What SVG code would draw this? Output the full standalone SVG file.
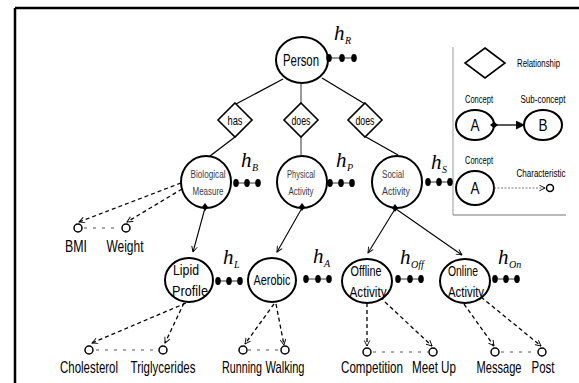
<svg xmlns="http://www.w3.org/2000/svg" width="579" height="383" viewBox="0 0 579 383">
<defs>
<marker id="v" viewBox="0 0 10 10" refX="9" refY="5" markerWidth="7" markerHeight="7" orient="auto" markerUnits="userSpaceOnUse">
<path d="M1,1 L9,5 L1,9" fill="none" stroke="#000" stroke-width="1.3"/>
</marker>
<marker id="tri" viewBox="0 0 10 10" refX="9" refY="5" markerWidth="9" markerHeight="9" orient="auto" markerUnits="userSpaceOnUse">
<path d="M0,0 L10,5 L0,10 Z" fill="#000"/>
</marker>
<marker id="dia" viewBox="0 0 10 10" refX="5" refY="5" markerWidth="8" markerHeight="8" orient="auto" markerUnits="userSpaceOnUse">
<path d="M0,5 L5,1 L10,5 L5,9 Z" fill="#000"/>
</marker>
</defs>
<style>
.c{fill:#fff;stroke:#000;stroke-width:2}
.d{fill:#fff;stroke:#000;stroke-width:1.6}
.l{stroke:#000;stroke-width:1.3;fill:none}
.a{stroke:#000;stroke-width:1.1;fill:none;marker-end:url(#v)}
.dl{stroke:#000;stroke-width:1.3;stroke-dasharray:4,3;fill:none;marker-end:url(#v)}
.dt{stroke:#555;stroke-width:1;stroke-dasharray:3,6;fill:none}
.k{fill:#fff;stroke:#000;stroke-width:1.5}
.dot{fill:#000}
.t{font-family:"Liberation Sans",Arial,sans-serif;fill:#000;text-anchor:middle}
.b{font-family:"Liberation Sans",Arial,sans-serif;fill:#000;text-anchor:middle;font-size:16px}
.s{font-family:"Liberation Sans",Arial,sans-serif;fill:#3a3a4a;text-anchor:middle;font-size:10px}
.h{font-family:"Liberation Serif",serif;font-style:italic;fill:#000;font-size:21px}
.hs{font-family:"Liberation Serif",serif;font-style:italic;fill:#000;font-size:10px}
</style>
<g id="frame">
<line x1="15" y1="8" x2="579" y2="8" stroke="#000" stroke-width="2.5"/>
<line x1="15" y1="8" x2="15" y2="383" stroke="#000" stroke-width="2.5"/>
</g>
<g id="legend">
<line x1="453" y1="47" x2="453" y2="215" stroke="#999" stroke-width="1"/>
<line x1="453" y1="215" x2="566" y2="215" stroke="#777" stroke-width="1"/>
<path d="M485,48 L505,63 L485,78 L465,63 Z" class="d"/>
<text transform="translate(517,67) scale(0.72,1)" class="t" style="font-size:10px;text-anchor:start" textLength="59.7" lengthAdjust="spacingAndGlyphs">Relationship</text>
<text transform="translate(479,103) scale(0.72,1)" class="t" style="font-size:11px" textLength="38.9" lengthAdjust="spacingAndGlyphs">Concept</text>
<text transform="translate(543,103) scale(0.72,1)" class="t" style="font-size:11px" textLength="62.5" lengthAdjust="spacingAndGlyphs">Sub-concept</text>
<ellipse cx="475" cy="125" rx="19" ry="15" class="c"/>
<text x="475" y="131" class="t" style="font-size:16px" textLength="9" lengthAdjust="spacingAndGlyphs">A</text>
<ellipse cx="543" cy="125" rx="19" ry="15" class="c"/>
<text x="543" y="131" class="t" style="font-size:16px" textLength="9" lengthAdjust="spacingAndGlyphs">B</text>
<line x1="494" y1="125" x2="524" y2="125" stroke="#000" stroke-width="1.3" marker-start="url(#dia)" marker-end="url(#tri)"/>
<text transform="translate(479,164) scale(0.72,1)" class="t" style="font-size:11px" textLength="38.9" lengthAdjust="spacingAndGlyphs">Concept</text>
<ellipse cx="475" cy="188" rx="19" ry="17" class="c"/>
<text x="475" y="194" class="t" style="font-size:16px" textLength="9" lengthAdjust="spacingAndGlyphs">A</text>
<text transform="translate(541,177) scale(0.72,1)" class="t" style="font-size:10px" textLength="68" lengthAdjust="spacingAndGlyphs">Characteristic</text>
<line x1="494" y1="188" x2="545" y2="188" stroke="#555" stroke-width="0.8" stroke-dasharray="2,1.5" marker-end="url(#v)"/>
<circle cx="550" cy="188" r="3.5" class="k" stroke-width="2"/>
</g>
<g id="connectors">
<line x1="283" y1="79" x2="236" y2="104" class="l"/>
<line x1="301" y1="83" x2="301" y2="103" stroke="#777" stroke-width="1.5"/>
<line x1="322" y1="78" x2="365" y2="104" class="l"/>
<line x1="235" y1="137" x2="210" y2="156" class="l"/>
<line x1="301" y1="137" x2="301" y2="155" stroke="#777" stroke-width="1.5"/>
<line x1="366" y1="137" x2="398" y2="155" class="l"/>
<line x1="205" y1="208" x2="193" y2="252" class="a"/>
<line x1="302" y1="208" x2="277" y2="252" class="a"/>
<line x1="395" y1="209" x2="368" y2="253" class="a"/>
<line x1="396" y1="209" x2="462" y2="255" class="a"/>
<line x1="181" y1="183" x2="79" y2="222" class="dl"/>
<line x1="182" y1="189" x2="127" y2="222" class="dl"/>
<line x1="186" y1="303" x2="92" y2="343" class="dl"/>
<line x1="184" y1="303" x2="165" y2="343" class="dl"/>
<line x1="274" y1="304" x2="245" y2="344" class="dl"/>
<line x1="276" y1="304" x2="284" y2="345" class="dl"/>
<line x1="367" y1="303" x2="367" y2="346" class="dl"/>
<line x1="385" y1="302" x2="432" y2="346" class="dl"/>
<line x1="464" y1="304" x2="494" y2="346" class="dl"/>
<line x1="481" y1="297" x2="541" y2="346" class="dl"/>
<line x1="84" y1="228" x2="120" y2="228" class="dt"/>
<line x1="96" y1="350" x2="158" y2="350" class="dt"/>
<line x1="248" y1="350" x2="280" y2="350" class="dt"/>
<line x1="373" y1="352" x2="428" y2="352" class="dt"/>
<line x1="501" y1="352" x2="537" y2="352" class="dt"/>
</g>
<g id="person">
<ellipse cx="302" cy="60" rx="26" ry="23" class="c"/>
<text x="301" y="66" class="t" style="font-size:16px" textLength="36" lengthAdjust="spacingAndGlyphs">Person</text>
<text x="334" y="40" class="h">h</text><text x="345" y="44" class="hs">R</text>
<line x1="328" y1="58" x2="355" y2="58" stroke="#000" stroke-width="0.8"/>
<ellipse cx="329" cy="58" rx="2.8" ry="4" class="dot"/><ellipse cx="342" cy="58" rx="2.8" ry="4" class="dot"/><ellipse cx="354" cy="58" rx="2.8" ry="4" class="dot"/>
</g>
<g id="rel-has">
<path d="M235,103 L252,120 L235,137 L218,120 Z" class="d"/>
<text x="235" y="125" class="t" style="font-size:13px" textLength="15" lengthAdjust="spacingAndGlyphs">has</text>
</g>
<g id="rel-does1">
<path d="M301,103 L318,120 L301,137 L284,120 Z" class="d"/>
<text x="301" y="125" class="t" style="font-size:13px" textLength="19" lengthAdjust="spacingAndGlyphs">does</text>
</g>
<g id="rel-does2">
<path d="M365,103 L382,120 L365,137 L348,120 Z" class="d"/>
<text x="365" y="125" class="t" style="font-size:13px" textLength="19" lengthAdjust="spacingAndGlyphs">does</text>
</g>
<g id="biological">
<ellipse cx="206" cy="182" rx="25" ry="26" class="c"/>
<text x="208" y="178" class="s" textLength="35" lengthAdjust="spacingAndGlyphs">Biological</text>
<text x="208" y="195" class="s" textLength="31" lengthAdjust="spacingAndGlyphs">Measure</text>
<path d="M205,203 L208,207 L205,211 L202,207 Z" class="dot"/>
<text x="241" y="167" class="h">h</text><text x="252" y="171" class="hs">B</text>
<line x1="235" y1="183" x2="258" y2="183" stroke="#000" stroke-width="0.8"/>
<ellipse cx="236" cy="183" rx="2.8" ry="4" class="dot"/><ellipse cx="247" cy="183" rx="2.8" ry="4" class="dot"/><ellipse cx="258" cy="183" rx="2.8" ry="4" class="dot"/>
</g>
<g id="physical">
<ellipse cx="302" cy="182" rx="25" ry="26" class="c"/>
<text x="301" y="178" class="s" textLength="28" lengthAdjust="spacingAndGlyphs">Physical</text>
<text x="301" y="195" class="s" textLength="25" lengthAdjust="spacingAndGlyphs">Activity</text>
<path d="M302,203 L305,207 L302,211 L299,207 Z" class="dot"/>
<text x="336" y="167" class="h">h</text><text x="347" y="171" class="hs">P</text>
<line x1="329" y1="183" x2="353" y2="183" stroke="#000" stroke-width="0.8"/>
<ellipse cx="330" cy="183" rx="2.8" ry="4" class="dot"/><ellipse cx="341" cy="183" rx="2.8" ry="4" class="dot"/><ellipse cx="352" cy="183" rx="2.8" ry="4" class="dot"/>
</g>
<g id="social">
<ellipse cx="397" cy="182" rx="25" ry="26" class="c"/>
<text x="393" y="178" class="s" textLength="22" lengthAdjust="spacingAndGlyphs">Social</text>
<text x="396" y="195" class="s" textLength="28" lengthAdjust="spacingAndGlyphs">Activity</text>
<path d="M395,204 L398,208 L395,212 L392,208 Z" class="dot"/>
<text x="431" y="169" class="h">h</text><text x="442" y="173" class="hs">S</text>
<line x1="427" y1="182" x2="450" y2="182" stroke="#000" stroke-width="0.8"/>
<ellipse cx="428" cy="182" rx="2.8" ry="4" class="dot"/><ellipse cx="439" cy="182" rx="2.8" ry="4" class="dot"/><ellipse cx="450" cy="182" rx="2.8" ry="4" class="dot"/>
</g>
<g id="lipid">
<ellipse cx="189" cy="280" rx="24" ry="22" class="c"/>
<text x="186" y="275" class="t" style="font-size:15px" textLength="26" lengthAdjust="spacingAndGlyphs">Lipid</text>
<text x="190" y="296" class="t" style="font-size:15px" textLength="36" lengthAdjust="spacingAndGlyphs">Profile</text>
<text x="223" y="264" class="h">h</text><text x="234" y="268" class="hs">L</text>
<line x1="217" y1="281" x2="240" y2="281" stroke="#000" stroke-width="0.8"/>
<ellipse cx="218" cy="281" rx="2.8" ry="4" class="dot"/><ellipse cx="229" cy="281" rx="2.8" ry="4" class="dot"/><ellipse cx="240" cy="281" rx="2.8" ry="4" class="dot"/>
</g>
<g id="aerobic">
<ellipse cx="272" cy="280" rx="24" ry="22" class="c"/>
<text x="272" y="285" class="t" style="font-size:15px" textLength="37" lengthAdjust="spacingAndGlyphs">Aerobic</text>
<text x="313" y="263" class="h">h</text><text x="324" y="267" class="hs">A</text>
<line x1="305" y1="279" x2="330" y2="279" stroke="#000" stroke-width="0.8"/>
<ellipse cx="306" cy="279" rx="2.8" ry="4" class="dot"/><ellipse cx="318" cy="279" rx="2.8" ry="4" class="dot"/><ellipse cx="329" cy="279" rx="2.8" ry="4" class="dot"/>
</g>
<g id="offline">
<ellipse cx="367" cy="281" rx="25" ry="22" class="c"/>
<text x="366" y="276" class="t" style="font-size:15px" textLength="31" lengthAdjust="spacingAndGlyphs">Offline</text>
<text x="368" y="297" class="t" style="font-size:15px" textLength="37" lengthAdjust="spacingAndGlyphs">Activity</text>
<text x="400" y="264" class="h">h</text><text x="411" y="268" class="hs">Off</text>
<line x1="397" y1="279" x2="422" y2="279" stroke="#000" stroke-width="0.8"/>
<ellipse cx="398" cy="279" rx="2.8" ry="4" class="dot"/><ellipse cx="410" cy="279" rx="2.8" ry="4" class="dot"/><ellipse cx="421" cy="279" rx="2.8" ry="4" class="dot"/>
</g>
<g id="online">
<ellipse cx="465" cy="281" rx="25" ry="22" class="c"/>
<text x="463" y="276" class="t" style="font-size:15px" textLength="30" lengthAdjust="spacingAndGlyphs">Online</text>
<text x="466" y="297" class="t" style="font-size:15px" textLength="36" lengthAdjust="spacingAndGlyphs">Activity</text>
<text x="498" y="264" class="h">h</text><text x="509" y="268" class="hs">On</text>
<line x1="493" y1="279" x2="518" y2="279" stroke="#000" stroke-width="0.8"/>
<ellipse cx="495" cy="279" rx="2.8" ry="4" class="dot"/><ellipse cx="506" cy="279" rx="2.8" ry="4" class="dot"/><ellipse cx="517" cy="279" rx="2.8" ry="4" class="dot"/>
</g>
<g id="bmi"><circle cx="78" cy="228" r="4" class="k"/><text transform="translate(76,252) scale(0.72,1)" class="b" textLength="30.6" lengthAdjust="spacingAndGlyphs">BMI</text></g>
<g id="weight"><circle cx="126" cy="228" r="4" class="k"/><text transform="translate(125,252) scale(0.72,1)" class="b" textLength="51.4" lengthAdjust="spacingAndGlyphs">Weight</text></g>
<g id="cholesterol"><circle cx="89" cy="350" r="4" class="k"/><text transform="translate(89,373) scale(0.72,1)" class="b" textLength="80.6" lengthAdjust="spacingAndGlyphs">Cholesterol</text></g>
<g id="triglycerides"><circle cx="163" cy="350" r="4" class="k"/><text transform="translate(163,373) scale(0.72,1)" class="b" textLength="90.3" lengthAdjust="spacingAndGlyphs">Triglycerides</text></g>
<g id="running"><circle cx="243" cy="350" r="4" class="k"/><text transform="translate(242,373) scale(0.72,1)" class="b" textLength="55.6" lengthAdjust="spacingAndGlyphs">Running</text></g>
<g id="walking"><circle cx="285" cy="350" r="4" class="k"/><text transform="translate(285,373) scale(0.72,1)" class="b" textLength="54.2" lengthAdjust="spacingAndGlyphs">Walking</text></g>
<g id="competition"><circle cx="367" cy="352" r="4" class="k"/><text transform="translate(372,373) scale(0.72,1)" class="b" textLength="86.1" lengthAdjust="spacingAndGlyphs">Competition</text></g>
<g id="meetup"><circle cx="433" cy="352" r="4" class="k"/><text transform="translate(434,373) scale(0.72,1)" class="b" textLength="61.1" lengthAdjust="spacingAndGlyphs">Meet Up</text></g>
<g id="message"><circle cx="495" cy="352" r="4" class="k"/><text transform="translate(499,373) scale(0.72,1)" class="b" textLength="62.5" lengthAdjust="spacingAndGlyphs">Message</text></g>
<g id="post"><circle cx="542" cy="352" r="4" class="k"/><text transform="translate(543,373) scale(0.72,1)" class="b" textLength="31.9" lengthAdjust="spacingAndGlyphs">Post</text></g>
</svg>
